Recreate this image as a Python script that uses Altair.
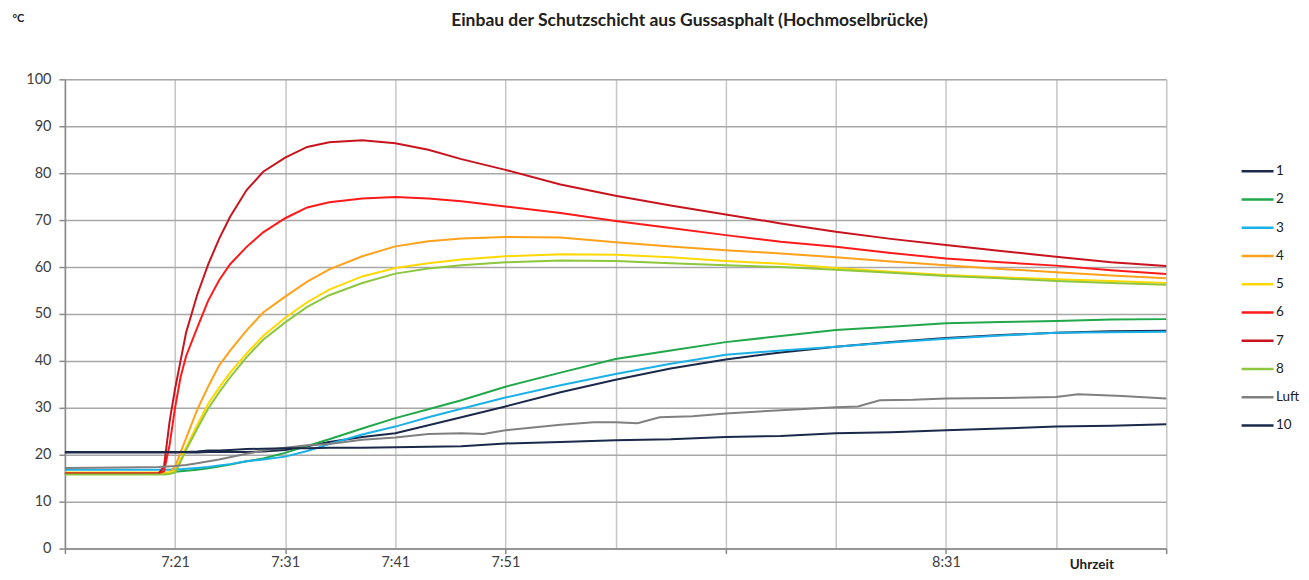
import altair as alt
import pandas as pd

# minutes after 7:11
TIME = [0, 5, 8.5, 9, 9.5, 10, 10.5, 11, 12, 13, 14, 15, 16.5, 18, 20, 22, 24, 27, 30, 33,
        36, 40, 45, 50, 55, 60, 65, 70, 75, 80, 85, 90, 95, 100]

S1 = [20.5, 20.5, 20.5, 20.5, 20.5, 20.5, 20.5, 20.5, 20.5, 20.6, 20.6, 20.6, 20.6, 20.7, 21.0, 21.8, 22.7, 23.8, 24.6, 26.3,
      28.0, 30.3, 33.3, 36.0, 38.4, 40.3, 41.8, 43.0, 44.0, 44.9, 45.5, 46.0, 46.3, 46.4]
S2 = [16, 16, 16, 16, 16.1, 16.4, 16.5, 16.6, 16.8, 17.1, 17.5, 17.9, 18.6, 19.2, 20.4, 21.9, 23.3, 25.6, 27.8, 29.7,
      31.6, 34.5, 37.5, 40.4, 42.2, 44.0, 45.3, 46.6, 47.3, 48.0, 48.3, 48.5, 48.8, 48.9]
S3 = [16.8, 16.8, 16.8, 16.8, 16.8, 16.9, 16.9, 17.0, 17.2, 17.4, 17.7, 18.0, 18.6, 19.0, 19.6, 20.8, 22.3, 24.3, 26.0, 28.0,
      29.8, 32.2, 34.8, 37.2, 39.4, 41.3, 42.2, 43.0, 43.9, 44.7, 45.4, 46.0, 46.1, 46.2]
S4 = [16, 16, 16, 16, 16.2, 17.5, 20.5, 23.5, 29.5, 34.5, 39.0, 42.2, 46.5, 50.3, 53.7, 56.9, 59.5, 62.3, 64.4, 65.5,
      66.1, 66.4, 66.3, 65.3, 64.4, 63.6, 62.9, 62.1, 61.2, 60.4, 59.6, 58.9, 58.2, 57.6]
S5 = [16.2, 16.2, 16.2, 16.2, 16.2, 16.5, 19.0, 21.5, 26.3, 30.8, 34.3, 37.5, 41.6, 45.3, 49.2, 52.5, 55.2, 58.0, 59.8, 60.8,
      61.6, 62.3, 62.7, 62.6, 62.1, 61.3, 60.7, 59.8, 59.0, 58.3, 57.8, 57.4, 57.0, 56.6]
S6 = [16, 16, 16, 16.5, 22, 30, 36.5, 41, 47, 52.8, 57.2, 60.6, 64.3, 67.4, 70.4, 72.7, 73.8, 74.6, 74.9, 74.6,
      74.0, 72.9, 71.5, 69.8, 68.3, 66.8, 65.4, 64.3, 63.0, 61.8, 61.0, 60.3, 59.3, 58.5]
S7 = [16, 16, 16, 17.5, 27, 34, 40, 46, 54, 60.5, 66, 70.7, 76.4, 80.3, 83.3, 85.6, 86.6, 87.0, 86.4, 85.0,
      83.0, 80.7, 77.6, 75.2, 73.1, 71.2, 69.3, 67.5, 66.0, 64.7, 63.4, 62.2, 61.0, 60.2]
S8 = [15.8, 15.8, 15.8, 15.8, 15.9, 16.2, 18.5, 21.0, 25.5, 29.8, 33.3, 36.5, 40.8, 44.5, 48.2, 51.5, 54.0, 56.6, 58.6, 59.7,
      60.4, 61.0, 61.4, 61.3, 60.8, 60.4, 60.0, 59.4, 58.8, 58.1, 57.6, 57.0, 56.6, 56.2]
S10 = [20.6, 20.6, 20.6, 20.6, 20.6, 20.6, 20.6, 20.6, 20.7, 20.9, 20.9, 21.0, 21.2, 21.3, 21.4, 21.4, 21.5, 21.5, 21.6, 21.7,
       21.8, 22.4, 22.7, 23.1, 23.3, 23.8, 24.0, 24.6, 24.8, 25.2, 25.6, 26.0, 26.2, 26.5]

LUFT_TIME = [0, 5, 8.5, 10, 11, 12, 14, 16.5, 18, 20, 22, 24, 27, 30, 33, 36, 38, 40, 45, 48,
             50, 52, 54, 57, 60, 65, 70, 72, 74, 77, 80, 85, 90, 92, 96, 100]
LUFT = [17.2, 17.3, 17.4, 17.6, 17.8, 18.2, 19.0, 20.2, 20.9, 21.5, 22.0, 22.3, 23.2, 23.7, 24.4, 24.6, 24.4, 25.2, 26.4, 26.9,
        26.9, 26.7, 28.0, 28.2, 28.8, 29.5, 30.1, 30.3, 31.6, 31.7, 32.0, 32.1, 32.3, 32.9, 32.5, 32.0]

NAMES = ["1", "2", "3", "4", "5", "6", "7", "8", "Luft", "10"]
COLORS = ["#1b2a4a", "#20a84a", "#1ab0e8", "#ffa21a", "#ffd800", "#ff1a1a", "#c8141e", "#8dc63f", "#808080", "#1b2a4a"]

TICK_VALUES = [0, 10, 20, 30, 40, 50, 60, 70, 80, 90, 100]
TICK_LABELS = {10: "7:21", 20: "7:31", 30: "7:41", 40: "7:51", 80: "8:31"}

TITLE = "Einbau der Schutzschicht aus Gussasphalt (Hochmoselbrücke)"
FONT = "Lato"

series = {"1": (TIME, S1), "2": (TIME, S2), "3": (TIME, S3), "4": (TIME, S4), "5": (TIME, S5),
          "6": (TIME, S6), "7": (TIME, S7), "8": (TIME, S8), "Luft": (LUFT_TIME, LUFT), "10": (TIME, S10)}
rows = []
for i, name in enumerate(NAMES):
    ts, vs = series[name]
    for t, v in zip(ts, vs):
        rows.append({"s": name, "t": t, "v": v, "k": i})
df = pd.DataFrame(rows)

label_expr = " : ".join(f"datum.value == {k} ? '{v}'" for k, v in TICK_LABELS.items()) + " : ''"

x_axis = alt.Axis(
    values=TICK_VALUES, labelExpr=label_expr, grid=True, gridColor="#c6c6c6", gridWidth=1.5,
    domainColor="#8a8a8a", domainWidth=1.5, tickColor="#8a8a8a", tickSize=5, tickWidth=1.5,
    tickOpacity={"condition": {"test": "datum.value % 20 === 0", "value": 1}, "value": 0},
    labelFont=FONT, labelFontSize=14.5, labelColor="#404040", labelPadding=2,
    labelFlush=False, labelOverlap=False,
    title="Uhrzeit", titleFont=FONT, titleFontSize=13.5, titleFontWeight="bold", titleColor="#202020",
    titleX=1028, titleY=16, titleAlign="center", titleBaseline="middle",
)
y_axis = alt.Axis(
    values=list(range(0, 101, 10)), grid=True, gridColor="#a8a8a8", gridWidth=1.5,
    domainColor="#8a8a8a", domainWidth=1.5, tickColor="#8a8a8a", tickSize=6, tickWidth=1.5,
    labelFont=FONT, labelFontSize=14.5, labelColor="#404040", labelPadding=8,
    title="°C", titleFont=FONT, titleFontSize=11, titleFontWeight="bold", titleColor="#202020",
    titleAngle=0, titleX=-53, titleY=-61, titleAlign="left", titleBaseline="middle",
)

lines = alt.Chart(df).mark_line(strokeWidth=2).encode(
    x=alt.X("t:Q", scale=alt.Scale(domain=[0, 100], nice=False), axis=x_axis),
    y=alt.Y("v:Q", scale=alt.Scale(domain=[0, 100], nice=False), axis=y_axis),
    color=alt.Color("s:N", scale=alt.Scale(domain=NAMES, range=COLORS), sort=NAMES,
                    legend=alt.Legend(title=None, orient="none", legendX=1177, legendY=84,
                                      symbolType="stroke", symbolSize=1024, symbolStrokeWidth=2.5,
                                      clipHeight=16, rowPadding=12.3, padding=0,
                                      labelFont=FONT, labelFontSize=13.5, labelColor="#202020",
                                      labelOffset=1)),
    order=alt.Order("k:Q"),
)

chart = lines.properties(
    width=1103, height=470,
    autosize=alt.AutoSizeParams(type="none"),
    padding={"left": 57, "top": 71, "right": 135, "bottom": 23},
    title=alt.TitleParams(TITLE, font=FONT, fontSize=17.5, fontWeight="bold", color="#202020",
                          anchor="middle", dx=74, dy=21),
).configure_view(strokeWidth=0).configure(background="white")

chart.save("out.html", embed_options={"renderer": "svg", "actions": False})
